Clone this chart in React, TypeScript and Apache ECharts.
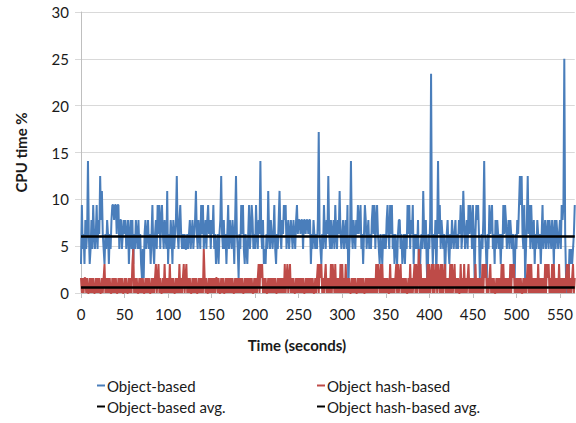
import React, { useEffect, useRef } from "react";
import * as echarts from "echarts";

// Object-based CPU time % (one value per second), rows of 50 seconds
const objectBased: number[] = [
  // 0-49
  3.1, 9.4, 4.7, 6.3, 3.1, 7.8, 4.7, 6.3, 14.1, 6.3, 3.1, 4.7, 7.8, 4.7, 9.4, 6.3, 4.7, 6.3, 9.4, 4.7,
  7.8, 6.3, 12.5, 7.8, 10.9, 6.3, 4.7, 3.1, 6.3, 4.7, 7.8, 6.3, 3.1, 6.3, 4.7, 7.8, 9.4, 9.4, 7.8, 9.4,
  9.4, 6.3, 9.4, 9.4, 4.7, 7.8, 7.8, 4.7, 6.3, 7.8,
  // 50-99
  6.3, 7.8, 4.7, 6.3, 7.8, 3.1, 6.3, 7.8, 4.7, 7.8, 3.1, 6.3, 4.7, 7.8, 6.3, 4.7, 7.8, 4.7, 6.3, 3.1,
  1.6, 4.7, 1.6, 6.3, 7.8, 4.7, 6.3, 7.8, 4.7, 6.3, 3.1, 6.3, 9.4, 4.7, 3.1, 6.3, 7.8, 4.7, 9.4, 6.3,
  9.4, 4.7, 7.8, 9.4, 6.3, 4.7, 7.8, 6.3, 4.7, 10.9,
  // 100-149
  3.1, 6.3, 4.7, 7.8, 6.3, 3.1, 7.8, 4.7, 6.3, 7.8, 12.5, 6.3, 4.7, 7.8, 9.4, 6.3, 4.7, 6.3, 4.7, 6.3,
  4.7, 4.7, 6.3, 4.7, 6.3, 7.8, 4.7, 6.3, 7.8, 4.7, 6.3, 7.8, 10.9, 6.3, 4.7, 7.8, 6.3, 4.7, 9.4, 6.3,
  9.4, 4.7, 6.3, 7.8, 4.7, 7.8, 9.4, 6.3, 7.8, 4.7,
  // 150-199
  7.8, 6.3, 9.4, 4.7, 6.3, 3.1, 4.7, 6.3, 3.1, 6.3, 7.8, 12.5, 6.3, 4.7, 7.8, 4.7, 6.3, 3.1, 6.3, 9.4,
  4.7, 7.8, 6.3, 4.7, 7.8, 6.3, 3.1, 7.8, 12.5, 6.3, 4.7, 1.6, 6.3, 4.7, 9.4, 6.3, 9.4, 4.7, 3.1, 6.3,
  4.7, 3.1, 6.3, 9.4, 4.7, 6.3, 9.4, 7.8, 4.7, 6.3,
  // 200-249
  4.7, 9.4, 6.3, 4.7, 7.8, 6.3, 14.1, 6.3, 4.7, 7.8, 3.1, 4.7, 3.1, 6.3, 4.7, 10.9, 6.3, 4.7, 7.8, 6.3,
  4.7, 6.3, 9.4, 4.7, 3.1, 6.3, 4.7, 7.8, 10.9, 6.3, 4.7, 7.8, 6.3, 9.4, 7.8, 9.4, 4.7, 6.3, 7.8, 4.7,
  6.3, 7.8, 6.3, 4.7, 7.8, 6.3, 4.7, 7.8, 9.4, 6.3,
  // 250-299
  7.8, 7.8, 6.3, 7.8, 7.8, 4.7, 7.8, 7.8, 6.3, 7.8, 7.8, 6.3, 7.8, 7.8, 3.1, 6.3, 4.7, 7.8, 6.3, 4.7,
  6.3, 4.7, 7.8, 17.2, 6.3, 4.7, 3.1, 6.3, 4.7, 9.4, 6.3, 4.7, 7.8, 6.3, 12.5, 6.3, 4.7, 7.8, 4.7, 6.3,
  7.8, 4.7, 9.4, 6.3, 4.7, 7.8, 6.3, 10.9, 6.3, 4.7,
  // 300-349
  6.3, 7.8, 4.7, 6.3, 7.8, 4.7, 9.4, 0, 4.7, 6.3, 14.1, 6.3, 4.7, 7.8, 6.3, 4.7, 7.8, 6.3, 9.4, 6.3,
  7.8, 9.4, 4.7, 6.3, 3.1, 6.3, 9.4, 7.8, 4.7, 6.3, 7.8, 4.7, 6.3, 4.7, 7.8, 9.4, 6.3, 9.4, 4.7, 7.8,
  9.4, 6.3, 4.7, 3.1, 6.3, 4.7, 3.1, 6.3, 4.7, 6.3,
  // 350-399
  4.7, 7.8, 9.4, 6.3, 4.7, 9.4, 6.3, 9.4, 4.7, 6.3, 3.1, 6.3, 4.7, 3.1, 6.3, 7.8, 7.8, 4.7, 6.3, 3.1,
  4.7, 6.3, 3.1, 6.3, 4.7, 9.4, 6.3, 9.4, 4.7, 7.8, 6.3, 9.4, 3.1, 6.3, 4.7, 6.3, 4.7, 7.8, 3.1, 1.6,
  4.7, 6.3, 4.7, 10.9, 6.3, 4.7, 7.8, 3.1, 0, 6.3,
  // 400-449
  4.7, 7.8, 23.4, 6.3, 3.1, 6.3, 4.7, 7.8, 1.6, 6.3, 14.1, 6.3, 9.4, 4.7, 7.8, 6.3, 4.7, 6.3, 1.6, 4.7,
  6.3, 7.8, 4.7, 3.1, 6.3, 4.7, 7.8, 6.3, 4.7, 6.3, 7.8, 4.7, 6.3, 4.7, 7.8, 6.3, 9.4, 4.7, 6.3, 10.9,
  7.8, 4.7, 6.3, 7.8, 4.7, 9.4, 6.3, 9.4, 7.8, 4.7,
  // 450-499
  9.4, 6.3, 1.6, 6.3, 9.4, 7.8, 9.4, 6.3, 1.6, 4.7, 6.3, 4.7, 7.8, 14.1, 6.3, 4.7, 1.6, 6.3, 4.7, 9.4,
  6.3, 7.8, 9.4, 4.7, 6.3, 3.1, 7.8, 4.7, 7.8, 6.3, 4.7, 6.3, 3.1, 6.3, 4.7, 9.4, 6.3, 9.4, 7.8, 4.7,
  6.3, 7.8, 4.7, 7.8, 6.3, 4.7, 6.3, 3.1, 1.6, 6.3,
  // 500-549
  4.7, 7.8, 6.3, 9.4, 12.5, 9.4, 12.5, 6.3, 4.7, 9.4, 1.6, 4.7, 7.8, 12.5, 6.3, 9.4, 4.7, 9.4, 6.3, 4.7,
  7.8, 3.1, 6.3, 4.7, 7.8, 6.3, 4.7, 6.3, 3.1, 6.3, 9.4, 4.7, 6.3, 7.8, 4.7, 6.3, 7.8, 4.7, 7.8, 6.3,
  4.7, 7.8, 6.3, 3.1, 7.8, 4.7, 7.8, 6.3, 4.7, 6.3,
  // 550-567
  7.8, 4.7, 9.4, 7.8, 9.4, 25, 6.3, 1.6, 0, 3.1, 1.6, 4.7, 3.1, 4.7, 3.1, 4.7, 6.3, 9.4,
];

// Object hash-based CPU time %
const objectHashBased: number[] = [
  // 0-49
  1.6, 0, 1.6, 0, 1.6, 1.6, 0, 1.6, 0, 0, 1.6, 0, 1.6, 0, 1.6, 0, 0, 1.6, 0, 1.6,
  0, 1.6, 0, 0, 1.6, 0, 1.6, 3.1, 0, 1.6, 0, 1.6, 0, 1.6, 0, 0, 1.6, 0, 1.6, 0,
  1.6, 0, 0, 1.6, 0, 1.6, 0, 1.6, 0, 0,
  // 50-99
  1.6, 0, 1.6, 0, 0, 1.6, 0, 1.6, 0, 3.1, 4.7, 0, 1.6, 0, 1.6, 0, 0, 1.6, 0, 1.6,
  0, 1.6, 0, 0, 1.6, 0, 1.6, 0, 1.6, 0, 0, 1.6, 0, 1.6, 0, 1.6, 3.1, 0, 1.6, 3.1,
  0, 1.6, 0, 0, 1.6, 0, 3.1, 0, 1.6, 0,
  // 100-149
  1.6, 0, 3.1, 0, 1.6, 0, 1.6, 0, 0, 1.6, 0, 1.6, 0, 3.1, 0, 1.6, 0, 1.6, 3.1, 0,
  1.6, 3.1, 0, 1.6, 0, 1.6, 0, 0, 1.6, 0, 1.6, 0, 1.6, 0, 0, 1.6, 0, 1.6, 0, 1.6,
  0, 4.7, 1.6, 0, 1.6, 0, 0, 1.6, 0, 1.6,
  // 150-199
  0, 1.6, 0, 1.6, 0, 1.6, 1.6, 0, 1.6, 0, 0, 1.6, 0, 1.6, 0, 0, 1.6, 0, 1.6, 0,
  1.6, 0, 1.6, 0, 1.6, 0, 0, 1.6, 0, 1.6, 0, 1.6, 0, 1.6, 0, 1.6, 0, 0, 1.6, 0,
  1.6, 0, 1.6, 0, 1.6, 0, 1.6, 0, 0, 1.6,
  // 200-249
  0, 1.6, 0, 1.6, 3.1, 0, 3.1, 1.6, 3.1, 0, 1.6, 0, 1.6, 0, 0, 1.6, 0, 1.6, 0, 1.6,
  0, 1.6, 0, 1.6, 0, 0, 1.6, 0, 1.6, 0, 1.6, 0, 1.6, 0, 3.1, 0, 1.6, 3.1, 0, 1.6,
  3.1, 0, 1.6, 0, 1.6, 0, 0, 1.6, 0, 1.6,
  // 250-299
  0, 1.6, 0, 1.6, 0, 1.6, 0, 0, 1.6, 0, 1.6, 0, 1.6, 0, 1.6, 0, 1.6, 0, 0, 1.6,
  0, 1.6, 3.1, 0, 3.1, 1.6, 3.1, 0, 1.6, 0, 1.6, 3.1, 0, 1.6, 0, 1.6, 0, 3.1, 0, 3.1,
  1.6, 0, 3.1, 0, 1.6, 0, 1.6, 0, 3.1, 0,
  // 300-349
  3.1, 0, 1.6, 0, 3.1, 0, 1.6, 0, 1.6, 0, 0, 1.6, 0, 1.6, 0, 1.6, 0, 0, 1.6, 0,
  1.6, 0, 1.6, 0, 1.6, 0, 0, 1.6, 0, 1.6, 0, 1.6, 0, 1.6, 0, 1.6, 0, 1.6, 0, 3.1,
  0, 3.1, 1.6, 0, 3.1, 0, 3.1, 0, 1.6, 0,
  // 350-399
  1.6, 0, 1.6, 0, 0, 3.1, 0, 1.6, 0, 1.6, 0, 1.6, 3.1, 0, 3.1, 0, 1.6, 3.1, 0, 1.6,
  0, 1.6, 0, 1.6, 0, 0, 1.6, 0, 3.1, 0, 1.6, 0, 1.6, 3.1, 0, 3.1, 0, 1.6, 4.7, 0,
  3.1, 0, 1.6, 0, 1.6, 0, 1.6, 0, 3.1, 0,
  // 400-449
  3.1, 0, 1.6, 3.1, 0, 3.1, 0, 1.6, 3.1, 0, 3.1, 1.6, 0, 3.1, 0, 3.1, 0, 1.6, 3.1, 0,
  1.6, 0, 1.6, 0, 3.1, 0, 3.1, 0, 1.6, 3.1, 0, 1.6, 0, 1.6, 0, 0, 3.1, 0, 1.6, 0,
  3.1, 0, 1.6, 0, 1.6, 3.1, 0, 1.6, 0, 1.6,
  // 450-499
  0, 1.6, 0, 3.1, 0, 1.6, 0, 1.6, 0, 1.6, 0, 3.1, 0, 3.1, 1.6, 3.1, 0, 1.6, 0, 1.6,
  3.1, 0, 1.6, 0, 1.6, 0, 0, 1.6, 0, 1.6, 0, 1.6, 0, 3.1, 0, 3.1, 0, 1.6, 0, 1.6,
  0, 1.6, 0, 3.1, 0, 3.1, 1.6, 3.1, 0, 1.6,
  // 500-549
  0, 1.6, 0, 1.6, 0, 1.6, 0, 0, 1.6, 0, 1.6, 0, 1.6, 3.1, 0, 3.1, 0, 3.1, 0, 1.6,
  0, 1.6, 0, 1.6, 0, 3.1, 0, 1.6, 0, 1.6, 0, 1.6, 0, 3.1, 0, 3.1, 1.6, 3.1, 0, 1.6,
  0, 3.1, 0, 3.1, 0, 1.6, 0, 1.6, 0, 3.1,
  // 550-567
  0, 1.6, 0, 1.6, 0, 1.6, 0, 1.6, 3.1, 0, 3.1, 0, 1.6, 0, 1.6, 3.1, 0, 1.6,
];

// Averages (horizontal black lines)
const objectBasedAvg = 6.1;
const objectHashBasedAvg = 0.6;

// Time axis categories (seconds)
const timeSeconds: string[] = objectBased.map((_, i) => String(i));

const FONT = 'Lato, "Liberation Sans", sans-serif';
const TEXT = "#1a1a1a";

export default function App() {
  const ref = useRef<HTMLDivElement>(null);

  useEffect(() => {
    document.body.style.margin = "0";
    if (!ref.current) return;
    const chart = echarts.init(ref.current, null, { renderer: "svg" });
    chart.setOption({
      animation: false,
      backgroundColor: "#ffffff",
      textStyle: { fontFamily: FONT },
      grid: { left: 81, right: 1, top: 12, bottom: 130, containLabel: false },
      legend: [
        {
          left: 92,
          top: 373,
          orient: "vertical",
          icon: "rect",
          itemWidth: 8,
          itemHeight: 2,
          itemGap: 6,
          textStyle: { fontFamily: FONT, fontSize: 15, color: TEXT, padding: [0, 0, 0, -3] },
          data: ["Object-based", "Object-based avg."],
        },
        {
          left: 312,
          top: 373,
          orient: "vertical",
          icon: "rect",
          itemWidth: 8,
          itemHeight: 2,
          itemGap: 6,
          textStyle: { fontFamily: FONT, fontSize: 15, color: TEXT, padding: [0, 0, 0, -3] },
          data: ["Object hash-based", "Object hash-based avg."],
        },
      ],
      xAxis: {
        type: "category",
        data: timeSeconds,
        boundaryGap: false,
        name: "Time (seconds)",
        nameLocation: "middle",
        nameGap: 44,
        nameTextStyle: {
          fontFamily: FONT,
          fontSize: 15,
          fontWeight: "bold",
          color: TEXT,
          padding: [0, 62, 0, 0],
        },
        axisLine: { show: true, lineStyle: { color: "#bfbfbf", width: 1 } },
        axisTick: { show: true, interval: 49, length: 5, lineStyle: { color: "#bfbfbf" } },
        axisLabel: {
          interval: 49,
          margin: 13,
          fontFamily: FONT,
          fontSize: 15,
          color: TEXT,
        },
        splitLine: { show: false },
      },
      yAxis: {
        type: "value",
        min: 0,
        max: 30,
        interval: 5,
        name: "CPU time %",
        nameLocation: "middle",
        nameGap: 53,
        nameTextStyle: { fontFamily: FONT, fontSize: 15, fontWeight: "bold", color: TEXT },
        axisLine: { show: true, lineStyle: { color: "#bfbfbf", width: 1 } },
        axisTick: { show: true, length: 6, lineStyle: { color: "#d9d9d9" } },
        axisLabel: { margin: 12, fontFamily: FONT, fontSize: 15, color: TEXT },
        splitLine: { show: true, lineStyle: { color: "#d9d9d9", width: 1 } },
      },
      series: [
        {
          name: "Object-based",
          type: "line",
          data: objectBased,
          showSymbol: false,
          symbol: "none",
          color: "#4a7ebb",
          lineStyle: { color: "#4a7ebb", width: 2 },
        },
        {
          name: "Object hash-based",
          type: "line",
          data: objectHashBased,
          showSymbol: false,
          symbol: "none",
          color: "#be4b48",
          lineStyle: { color: "#be4b48", width: 2 },
        },
        {
          name: "Object-based avg.",
          type: "line",
          data: [],
          color: "#000000",
          symbol: "none",
          markLine: {
            silent: true,
            symbol: ["none", "none"],
            label: { show: false },
            lineStyle: { color: "#000000", width: 2.5, type: "solid" },
            data: [{ yAxis: objectBasedAvg }],
          },
        },
        {
          name: "Object hash-based avg.",
          type: "line",
          data: [],
          color: "#000000",
          symbol: "none",
          markLine: {
            silent: true,
            symbol: ["none", "none"],
            label: { show: false },
            lineStyle: { color: "#000000", width: 2.5, type: "solid" },
            data: [{ yAxis: objectHashBasedAvg }],
          },
        },
      ],
    });
    return () => chart.dispose();
  }, []);

  return <div ref={ref} style={{ width: 576, height: 423 }} />;
}
